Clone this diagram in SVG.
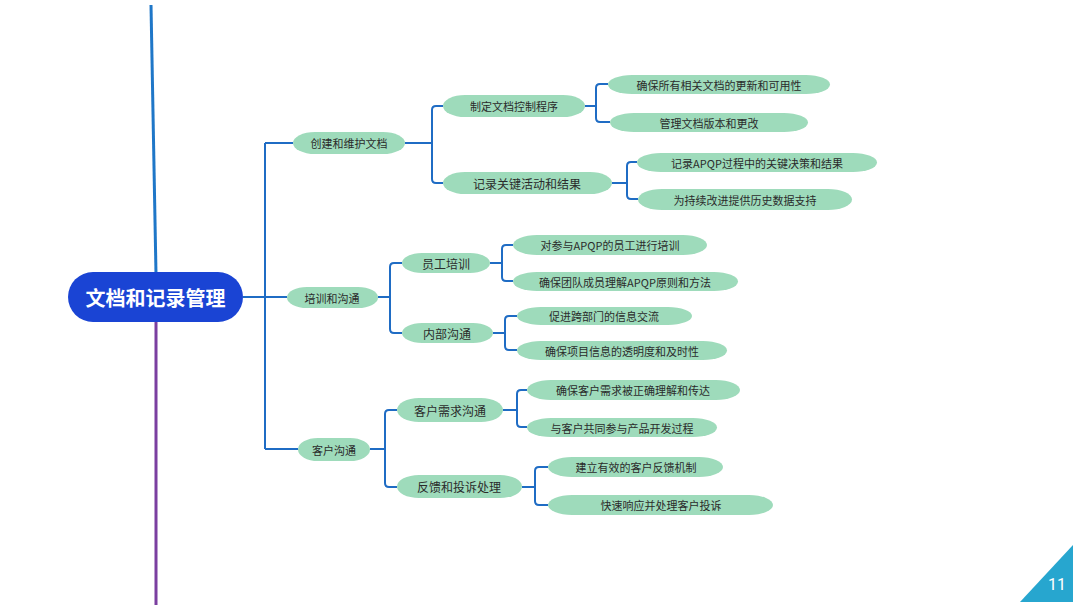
<svg xmlns="http://www.w3.org/2000/svg" width="1080" height="607" viewBox="0 0 1080 607">
<style>
.n{fill:#9edbbb}
.t{font-family:"Noto Sans CJK SC","Noto Sans",sans-serif;font-size:11px;fill:#2b2b2b;text-anchor:middle;dominant-baseline:central}
.t2{font-size:12px}
.c{fill:none;stroke:#1f6cc4;stroke-width:2;stroke-linejoin:round}
</style>
<rect width="1080" height="607" fill="#fff"/>
<line x1="151" y1="5" x2="156" y2="274" stroke="#1f77c8" stroke-width="3"/>
<line x1="156" y1="320" x2="156" y2="605" stroke="#7b3fa0" stroke-width="3"/>
<g id="connectors">
<path class="c" d="M243 297 H265 M265 143 V449 M265 143 H293 M265 297 H287 M265 449 H298"/>
<path class="c" d="M405 143 H432 M443 106 H436 Q432 106 432 110 V179 Q432 183 436 183 H443"/>
<path class="c" d="M585 106 H596 M608 84 H600 Q596 84 596 88 V118 Q596 122 600 122 H610"/>
<path class="c" d="M612 183 H627 M637 162 H631 Q627 162 627 166 V195 Q627 199 631 199 H638"/>
<path class="c" d="M378 297 H390 M402 263 H394 Q390 263 390 267 V329 Q390 333 394 333 H402"/>
<path class="c" d="M490 263 H502 M513 245 H506 Q502 245 502 249 V277 Q502 281 506 281 H513"/>
<path class="c" d="M493 333 H505 M517 316 H509 Q505 316 505 320 V346 Q505 350 509 350 H517"/>
<path class="c" d="M370 449 H385 M397 410 H389 Q385 410 385 414 V483 Q385 487 389 487 H397"/>
<path class="c" d="M503 410 H517 M527 390 H521 Q517 390 517 394 V423 Q517 427 521 427 H527"/>
<path class="c" d="M522 487 H535 M548 467 H539 Q535 467 535 471 V501 Q535 505 539 505 H548"/>
</g>
<g id="root">
<rect x="68" y="272" width="175" height="50" rx="25" fill="#1a44d4"/>
<text x="155.5" y="297" font-family="'Noto Sans CJK SC',sans-serif" font-size="20" font-weight="bold" fill="#fff" text-anchor="middle" dominant-baseline="central">文档和记录管理</text>
</g>
<g id="n1"><rect class="n" x="293" y="132" width="112" height="22" rx="22" ry="11"/><text class="t" x="349" y="143">创建和维护文档</text></g>
<g id="n2"><rect class="n" x="287" y="287" width="91" height="21" rx="20" ry="10.5"/><text class="t" x="332" y="297.5">培训和沟通</text></g>
<g id="n3"><rect class="n" x="298" y="438" width="72" height="23" rx="20" ry="11.5"/><text class="t" x="334" y="449.5">客户沟通</text></g>
<g id="n11"><rect class="n" x="443" y="95" width="142" height="22" rx="22" ry="11"/><text class="t" x="514" y="106">制定文档控制程序</text></g>
<g id="n12"><rect class="n" x="443" y="172" width="169" height="22" rx="22" ry="11"/><text class="t t2" x="527" y="183">记录关键活动和结果</text></g>
<g id="n111"><rect class="n" x="608" y="75" width="222" height="19" rx="24" ry="9.5"/><text class="t" x="719" y="84.5">确保所有相关文档的更新和可用性</text></g>
<g id="n112"><rect class="n" x="610" y="113" width="198" height="19" rx="24" ry="9.5"/><text class="t" x="709" y="122.5">管理文档版本和更改</text></g>
<g id="n121"><rect class="n" x="637" y="153" width="240" height="19" rx="24" ry="9.5"/><text class="t" x="757" y="162.5">记录APQP过程中的关键决策和结果</text></g>
<g id="n122"><rect class="n" x="638" y="189" width="214" height="21" rx="24" ry="10.5"/><text class="t" x="745" y="199.5">为持续改进提供历史数据支持</text></g>
<g id="n21"><rect class="n" x="402" y="253" width="88" height="20" rx="20" ry="10"/><text class="t t2" x="446" y="263">员工培训</text></g>
<g id="n22"><rect class="n" x="402" y="323" width="91" height="20" rx="20" ry="10"/><text class="t t2" x="447" y="333">内部沟通</text></g>
<g id="n211"><rect class="n" x="513" y="235" width="194" height="20" rx="24" ry="10"/><text class="t" x="610" y="245">对参与APQP的员工进行培训</text></g>
<g id="n212"><rect class="n" x="513" y="272" width="225" height="19" rx="24" ry="9.5"/><text class="t" x="625" y="281.5">确保团队成员理解APQP原则和方法</text></g>
<g id="n221"><rect class="n" x="517" y="307" width="175" height="18" rx="24" ry="9"/><text class="t" x="604" y="316">促进跨部门的信息交流</text></g>
<g id="n222"><rect class="n" x="517" y="341" width="210" height="19" rx="24" ry="9.5"/><text class="t" x="622" y="350.5">确保项目信息的透明度和及时性</text></g>
<g id="n31"><rect class="n" x="397" y="398" width="106" height="24" rx="22" ry="12"/><text class="t t2" x="450" y="410">客户需求沟通</text></g>
<g id="n32"><rect class="n" x="397" y="475" width="125" height="23" rx="22" ry="11.5"/><text class="t t2" x="459" y="486.5">反馈和投诉处理</text></g>
<g id="n311"><rect class="n" x="527" y="380" width="213" height="20" rx="24" ry="10"/><text class="t" x="633" y="390">确保客户需求被正确理解和传达</text></g>
<g id="n312"><rect class="n" x="527" y="418" width="190" height="19" rx="24" ry="9.5"/><text class="t" x="622" y="427.5">与客户共同参与产品开发过程</text></g>
<g id="n321"><rect class="n" x="548" y="457" width="175" height="20" rx="24" ry="10"/><text class="t" x="636" y="467">建立有效的客户反馈机制</text></g>
<g id="n322"><rect class="n" x="548" y="495" width="225" height="20" rx="24" ry="10"/><text class="t" x="661" y="505">快速响应并处理客户投诉</text></g>
<g id="page">
<polygon points="1020,602 1073,545 1073,602" fill="#27a6cf"/>
<text x="1057" y="584" font-family="Roboto,'Liberation Sans',sans-serif" font-size="16" fill="#fff" text-anchor="middle" dominant-baseline="central">11</text>
</g>
</svg>
